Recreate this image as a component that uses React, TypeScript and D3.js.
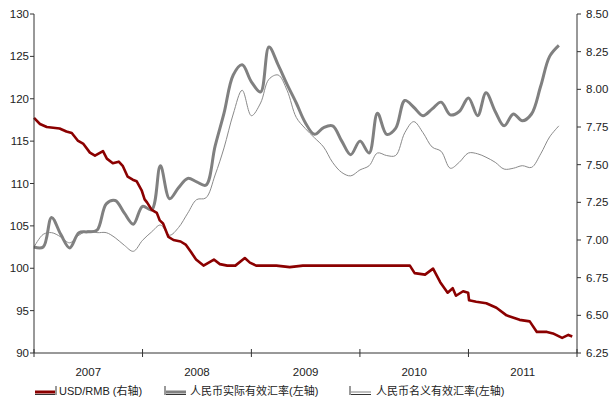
import React from "react";
import * as d3 from "d3";

// Monthly series (month index 0 = Jan 2007)
const reer: number[] = [
  102.5, 102.5, 106.0, 104.0, 102.4, 104.2, 104.3, 104.5, 107.6, 108.0, 106.5, 105.2,
  107.3, 106.9, 112.1, 108.2, 109.5, 110.6, 110.2, 109.8, 114.4, 118.3, 122.8, 124.0,
  122.0, 120.8, 126.1, 124.0, 121.7, 119.5, 117.2, 115.8, 116.6, 116.8, 115.0, 113.4,
  115.0, 113.6, 118.3, 115.8, 116.5, 119.8, 119.0, 118.0, 118.8, 119.6, 118.1, 118.5,
  120.1, 118.0, 120.7, 118.5, 116.8, 118.2, 117.4, 118.2, 121.5, 125.0, 126.3,
];
const neer: number[] = [
  102.5, 104.0, 104.2, 103.7, 103.0, 103.9, 104.4, 104.2, 104.2, 103.6, 102.7, 102.0,
  103.3, 104.3, 105.1, 103.9, 104.8, 106.5, 108.1, 108.3, 111.0, 114.2, 118.2, 121.0,
  118.0, 119.5, 122.3, 122.8, 121.0, 117.8, 116.5, 115.4, 114.3, 112.5, 111.3, 110.9,
  111.6, 112.1, 113.6, 113.3, 113.3, 116.0, 117.3, 116.0, 114.3, 113.8, 111.8, 112.5,
  113.6, 113.5, 113.1, 112.5, 111.7, 111.8, 112.1, 111.9, 113.5, 115.5, 116.8,
];

// USD/RMB (right axis)
const usdDates: string[] = [
  "2007-01-01", "2007-01-21", "2007-02-13", "2007-03-28", "2007-04-20", "2007-05-08",
  "2007-05-28", "2007-06-15", "2007-07-08", "2007-07-25", "2007-08-21", "2007-09-03",
  "2007-09-23", "2007-10-13", "2007-10-27", "2007-11-12", "2007-11-29", "2007-12-12",
  "2007-12-29", "2008-01-08", "2008-01-16", "2008-02-01", "2008-02-18", "2008-02-28",
  "2008-03-10", "2008-03-28", "2008-04-14", "2008-05-08", "2008-05-25", "2008-06-12",
  "2008-06-29", "2008-07-24", "2008-08-28", "2008-09-17", "2008-10-12", "2008-11-08",
  "2008-12-10", "2008-12-27", "2009-01-17", "2009-03-26", "2009-05-10", "2009-06-23",
  "2009-12-01", "2010-06-18", "2010-07-04", "2010-08-08", "2010-09-04", "2010-09-28",
  "2010-10-23", "2010-11-09", "2010-11-20", "2010-12-14", "2010-12-31", "2011-01-03",
  "2011-01-27", "2011-03-02", "2011-04-05", "2011-05-09", "2011-06-22", "2011-07-26",
  "2011-08-19", "2011-09-22", "2011-10-12", "2011-11-12", "2011-12-03", "2011-12-16",
];
const usdValues: number[] = [
  7.81, 7.77, 7.75, 7.74, 7.72, 7.71,
  7.66, 7.64, 7.58, 7.56, 7.59, 7.54,
  7.51, 7.52, 7.49, 7.42, 7.40, 7.39,
  7.33, 7.27, 7.25, 7.20, 7.18, 7.13,
  7.11, 7.02, 7.00, 6.99, 6.97, 6.92,
  6.87, 6.83, 6.87, 6.84, 6.83, 6.83,
  6.88, 6.85, 6.83, 6.83, 6.82, 6.83,
  6.83, 6.83, 6.78, 6.77, 6.81, 6.72,
  6.65, 6.68, 6.63, 6.66, 6.65, 6.60,
  6.59, 6.58, 6.55, 6.50, 6.47, 6.46,
  6.39, 6.39, 6.38, 6.35, 6.37, 6.36,
];

const leftTicks = [90, 95, 100, 105, 110, 115, 120, 125, 130];
const rightTicks = [6.25, 6.5, 6.75, 7.0, 7.25, 7.5, 7.75, 8.0, 8.25, 8.5];
const years = [2007, 2008, 2009, 2010, 2011];
const legendLabels = ["USD/RMB (右轴)", "人民币实际有效汇率(左轴)", "人民币名义有效汇率(左轴)"];

const W = 614;
const H = 403;
const X0 = 34;
const X1 = 577;
const Y0 = 14;
const Y1 = 353;

export default function App() {
  const x = d3.scaleTime().domain([new Date(2007, 0, 1), new Date(2012, 0, 1)]).range([X0, X1]);
  const yL = d3.scaleLinear().domain([90, 130]).range([Y1, Y0]);
  const yR = d3.scaleLinear().domain([6.25, 8.5]).range([Y1, Y0]);

  const monthly = (arr: number[]) => arr.map((v, i) => ({ d: new Date(2007, i, 1), v }));
  const smooth = d3
    .line<{ d: Date; v: number }>()
    .x((p) => x(p.d))
    .y((p) => yL(p.v))
    .curve(d3.curveCatmullRom.alpha(0.5));
  const usdLine = d3
    .line<{ d: Date; v: number }>()
    .x((p) => x(p.d))
    .y((p) => yR(p.v));
  const usd = usdDates.map((s, i) => ({ d: d3.timeParse("%Y-%m-%d")(s) as Date, v: usdValues[i] }));

  const latin = "'Liberation Sans', Arial, sans-serif";
  const cjk = "'Liberation Sans', 'Noto Sans CJK SC', sans-serif";
  const axisColor = "#333";
  const red = "#8b0000";
  const gray = "#808080";

  const legendItems = [
    { x: 35, color: red, w: 3, label: legendLabels[0], bar: "after", tx: 59 },
    { x: 166, color: gray, w: 3, label: legendLabels[1], bar: "before", tx: 190 },
    { x: 351, color: gray, w: 1, label: legendLabels[2], bar: "before", tx: 376 },
  ];

  return (
    <svg width={W} height={H} style={{ position: "absolute", left: 0, top: 0, background: "#fff" }}>
      {/* series */}
      <path d={smooth(monthly(neer)) || ""} fill="none" stroke="#8a8a8a" strokeWidth={1} />
      <path d={smooth(monthly(reer)) || ""} fill="none" stroke={gray} strokeWidth={3} />
      <path d={usdLine(usd) || ""} fill="none" stroke={red} strokeWidth={2.6} strokeLinejoin="round" />

      {/* left axis */}
      <line x1={X0} x2={X0} y1={Y0} y2={Y1} stroke={axisColor} strokeWidth={1} />
      {leftTicks.map((t) => (
        <g key={"l" + t}>
          <line x1={X0 - 4} x2={X0} y1={yL(t)} y2={yL(t)} stroke={axisColor} />
          <text x={X0 - 5} y={yL(t)} dy="0.35em" textAnchor="end" fontSize={11.5} fontFamily={latin} fill="#222">
            {t}
          </text>
        </g>
      ))}

      {/* right axis */}
      <line x1={X1} x2={X1} y1={Y0} y2={Y1} stroke={axisColor} strokeWidth={1} />
      {rightTicks.map((t) => (
        <g key={"r" + t}>
          <line x1={X1} x2={X1 + 4} y1={yR(t)} y2={yR(t)} stroke={axisColor} />
          <text x={X1 + 9} y={yR(t)} dy="0.35em" textAnchor="start" fontSize={11.5} fontFamily={latin} fill="#222">
            {t.toFixed(2)}
          </text>
        </g>
      ))}

      {/* x axis */}
      <line x1={X0} x2={X1} y1={Y1} y2={Y1} stroke={axisColor} strokeWidth={1} />
      {[...years, 2012].map((yr) => (
        <line key={"t" + yr} x1={x(new Date(yr, 0, 1))} x2={x(new Date(yr, 0, 1))} y1={Y1 - 4} y2={Y1 + 4} stroke={axisColor} />
      ))}
      {years.map((yr) => (
        <text
          key={"y" + yr}
          x={(x(new Date(yr, 0, 1)) + x(new Date(yr + 1, 0, 1))) / 2}
          y={372}
          dy="0.35em"
          textAnchor="middle"
          fontSize={11.5}
          fontFamily={latin}
          fill="#222"
        >
          {yr}
        </text>
      ))}

      {/* legend */}
      {legendItems.map((it, i) => (
        <g key={"lg" + i}>
          {it.bar === "after" ? (
            <>
              <line x1={it.x} x2={it.x + 20} y1={392} y2={392} stroke={it.color} strokeWidth={it.w} />
              <line x1={it.x} x2={it.x + 20} y1={394.5} y2={394.5} stroke="#000" strokeWidth={0.8} />
              <line x1={it.x + 21} x2={it.x + 21} y1={386} y2={395} stroke="#000" strokeWidth={0.8} />
            </>
          ) : (
            <>
              <line x1={it.x - 1} x2={it.x - 1} y1={386} y2={395} stroke="#000" strokeWidth={0.8} />
              <line x1={it.x} x2={it.x + 20} y1={392} y2={392} stroke={it.color} strokeWidth={it.w} />
              <line x1={it.x} x2={it.x + 20} y1={394.5} y2={394.5} stroke="#000" strokeWidth={0.8} />
            </>
          )}
          <text x={it.tx} y={391} dy="0.35em" fontSize={11} fontFamily={cjk} fill="#222">
            {it.label}
          </text>
        </g>
      ))}
    </svg>
  );
}
